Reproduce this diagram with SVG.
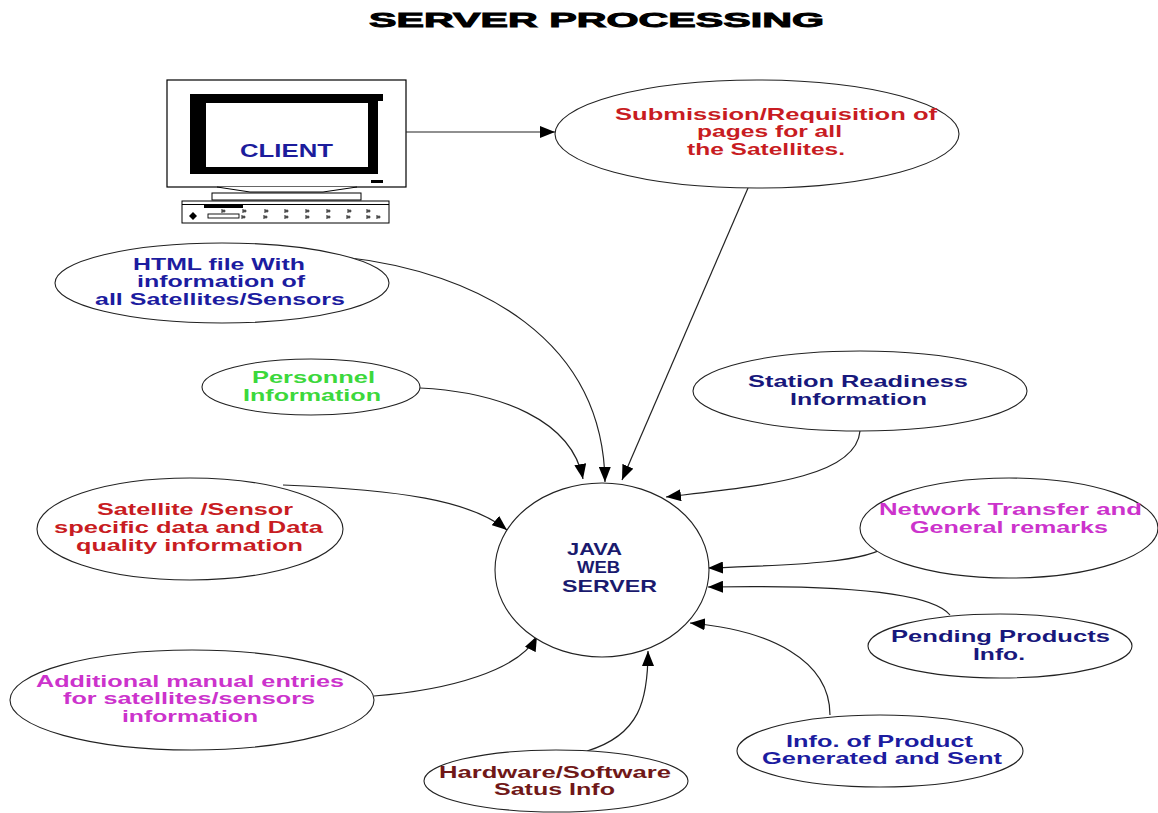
<svg xmlns="http://www.w3.org/2000/svg" width="1158" height="813" viewBox="0 0 1158 813">
  <style>
    text { font-family: "Liberation Sans", Arial, sans-serif; font-weight: bold; }
    .lbl { font-size: 16.5px; }
    .node { fill: #ffffff; stroke: #222222; stroke-width: 1.1; }
    .edge { fill: none; stroke: #222222; stroke-width: 1.2; marker-end: url(#arrow); }
    .red { fill: #c81c22; }
    .blue { fill: #1c1ca0; }
    .navy { fill: #18187c; }
    .green { fill: #3cd83c; }
    .magenta { fill: #cc33cc; }
    .maroon { fill: #701818; }
    .key { fill: none; stroke: #000; stroke-width: 0.9; }
  </style>
  <defs>
    <marker id="arrow" markerUnits="userSpaceOnUse" markerWidth="16" markerHeight="12" refX="15" refY="6" orient="auto">
      <path d="M0,0 L15,6 L0,12 Z" fill="#000"/>
    </marker>
    <path id="keymark" class="key" d="M0,0 L0,4 M0,2 L3.5,2 M2,0.5 L2,3.5"/>
  </defs>

  <rect width="1158" height="813" fill="#ffffff"/>

  <text id="title" x="369" y="27" font-size="20.5" textLength="455" lengthAdjust="spacingAndGlyphs" fill="#000" stroke="#000" stroke-width="0.9">SERVER PROCESSING</text>

  <!-- Client workstation -->
  <g id="client">
    <rect x="167" y="80" width="239" height="107" fill="#fff" stroke="#000" stroke-width="1.2"/>
    <rect x="190" y="94" width="188" height="80" fill="#000"/>
    <rect x="378" y="94" width="5" height="7" fill="#000"/>
    <rect x="206" y="103" width="162" height="64" fill="#fff"/>
    <rect x="371" y="180" width="12" height="3" fill="#000"/>
    <path d="M217,187 L250,192 L323,192 L357,187" fill="#fff" stroke="#000" stroke-width="1"/>
    <rect x="212" y="193" width="149" height="7" fill="#fff" stroke="#000" stroke-width="1"/>
    <rect x="182" y="201" width="207" height="22" fill="#fff" stroke="#000" stroke-width="1"/>
    <line x1="182" y1="204.5" x2="389" y2="204.5" stroke="#000" stroke-width="1"/>
    <rect x="204" y="205" width="39" height="3" fill="#000"/>
    <path d="M193,212 L197,216 L193,220 L189,216 Z" fill="#000"/>
    <rect x="208" y="214" width="31" height="4" fill="#fff" stroke="#000" stroke-width="0.9"/>
    <use href="#keymark" x="222" y="209"/>
    <use href="#keymark" x="243" y="209"/>
    <use href="#keymark" x="265" y="209"/>
    <use href="#keymark" x="285" y="209"/>
    <use href="#keymark" x="306" y="209"/>
    <use href="#keymark" x="327" y="209"/>
    <use href="#keymark" x="348" y="209"/>
    <use href="#keymark" x="367" y="209"/>
    <use href="#keymark" x="242" y="215"/>
    <use href="#keymark" x="264" y="215"/>
    <use href="#keymark" x="285" y="215"/>
    <use href="#keymark" x="306" y="215"/>
    <use href="#keymark" x="327" y="215"/>
    <use href="#keymark" x="347" y="215"/>
    <use href="#keymark" x="367" y="215"/>
    <use href="#keymark" x="377" y="215"/>
    <text x="240" y="157" font-size="18" textLength="93" lengthAdjust="spacingAndGlyphs" fill="#1c1c9c">CLIENT</text>
  </g>

  <!-- Connectors -->
  <g id="connectors">
    <path class="edge" d="M406,132 L555,132"/>
    <path class="edge" d="M748,188 L622,480"/>
    <path class="edge" d="M343,257 C480,272 603,340 605,482"/>
    <path class="edge" d="M420,388 C500,392 572,420 583,479"/>
    <path class="edge" d="M860,431 C856,478 760,486 666,497"/>
    <path class="edge" d="M888,545 C870,562 800,565 708,568"/>
    <path class="edge" d="M950,615 C930,590 820,585 708,587"/>
    <path class="edge" d="M830,715 C830,660 770,630 690,623"/>
    <path class="edge" d="M587,751 C640,735 648,700 648,651"/>
    <path class="edge" d="M374,696 C450,690 520,670 537,636"/>
    <path class="edge" d="M283,485 C400,490 470,500 507,530"/>
  </g>

  <g id="submission">
    <ellipse class="node" cx="757" cy="134" rx="202" ry="54"/>
    <text class="lbl red" x="615" y="120" textLength="322" lengthAdjust="spacingAndGlyphs">Submission/Requisition of</text>
    <text class="lbl red" x="697" y="137" textLength="145" lengthAdjust="spacingAndGlyphs">pages for all</text>
    <text class="lbl red" x="687" y="155" textLength="158" lengthAdjust="spacingAndGlyphs">the Satellites.</text>
  </g>

  <g id="html-file">
    <ellipse class="node" cx="222" cy="283" rx="167" ry="40"/>
    <text class="lbl blue" x="133" y="270" textLength="172" lengthAdjust="spacingAndGlyphs">HTML file With</text>
    <text class="lbl blue" x="137" y="287" textLength="168" lengthAdjust="spacingAndGlyphs">information of</text>
    <text class="lbl blue" x="95" y="305" textLength="250" lengthAdjust="spacingAndGlyphs">all Satellites/Sensors</text>
  </g>

  <g id="personnel">
    <ellipse class="node" cx="311" cy="387" rx="109" ry="28"/>
    <text class="lbl green" x="252" y="383" textLength="123" lengthAdjust="spacingAndGlyphs">Personnel</text>
    <text class="lbl green" x="243" y="401" textLength="138" lengthAdjust="spacingAndGlyphs">Information</text>
  </g>

  <g id="station-readiness">
    <ellipse class="node" cx="860" cy="391" rx="167" ry="40"/>
    <text class="lbl navy" x="748" y="387" textLength="220" lengthAdjust="spacingAndGlyphs">Station Readiness</text>
    <text class="lbl navy" x="790" y="405" textLength="137" lengthAdjust="spacingAndGlyphs">Information</text>
  </g>

  <g id="network-transfer">
    <ellipse class="node" cx="1009" cy="528" rx="149" ry="50"/>
    <text class="lbl magenta" x="879" y="515" textLength="263" lengthAdjust="spacingAndGlyphs">Network Transfer and</text>
    <text class="lbl magenta" x="910" y="533" textLength="198" lengthAdjust="spacingAndGlyphs">General remarks</text>
  </g>

  <g id="satellite-sensor">
    <ellipse class="node" cx="190" cy="529" rx="153" ry="51"/>
    <text class="lbl red" x="97" y="515" textLength="196" lengthAdjust="spacingAndGlyphs">Satellite /Sensor</text>
    <text class="lbl red" x="54" y="533" textLength="269" lengthAdjust="spacingAndGlyphs">specific data and Data</text>
    <text class="lbl red" x="76" y="551" textLength="227" lengthAdjust="spacingAndGlyphs">quality information</text>
  </g>

  <g id="java-web-server">
    <ellipse class="node" cx="602" cy="570" rx="107" ry="87"/>
    <text x="567" y="555" font-size="16.5" textLength="55" lengthAdjust="spacingAndGlyphs" fill="#1a1a6e">JAVA</text>
    <text x="577" y="573" font-size="16.5" textLength="43" lengthAdjust="spacingAndGlyphs" fill="#1a1a6e">WEB</text>
    <text x="562" y="592" font-size="16.5" textLength="95" lengthAdjust="spacingAndGlyphs" fill="#1a1a6e">SERVER</text>
  </g>

  <g id="pending-products">
    <ellipse class="node" cx="1000" cy="646" rx="132" ry="32"/>
    <text class="lbl navy" x="891" y="642" textLength="219" lengthAdjust="spacingAndGlyphs">Pending Products</text>
    <text class="lbl navy" x="973" y="660" textLength="52" lengthAdjust="spacingAndGlyphs">Info.</text>
  </g>

  <g id="additional-entries">
    <ellipse class="node" cx="192" cy="700" rx="182" ry="50"/>
    <text class="lbl magenta" x="36" y="687" textLength="308" lengthAdjust="spacingAndGlyphs">Additional manual entries</text>
    <text class="lbl magenta" x="63" y="704" textLength="252" lengthAdjust="spacingAndGlyphs">for satellites/sensors</text>
    <text class="lbl magenta" x="122" y="722" textLength="136" lengthAdjust="spacingAndGlyphs">information</text>
  </g>

  <g id="product-generated">
    <ellipse class="node" cx="880" cy="751" rx="143" ry="36"/>
    <text class="lbl blue" x="786" y="747" textLength="187" lengthAdjust="spacingAndGlyphs">Info. of Product</text>
    <text class="lbl blue" x="762" y="764" textLength="240" lengthAdjust="spacingAndGlyphs">Generated and Sent</text>
  </g>

  <g id="hardware-software">
    <ellipse class="node" cx="556" cy="781" rx="132" ry="31"/>
    <text class="lbl maroon" x="439" y="778" textLength="232" lengthAdjust="spacingAndGlyphs">Hardware/Software</text>
    <text class="lbl maroon" x="494" y="795" textLength="121" lengthAdjust="spacingAndGlyphs">Satus Info</text>
  </g>
</svg>
